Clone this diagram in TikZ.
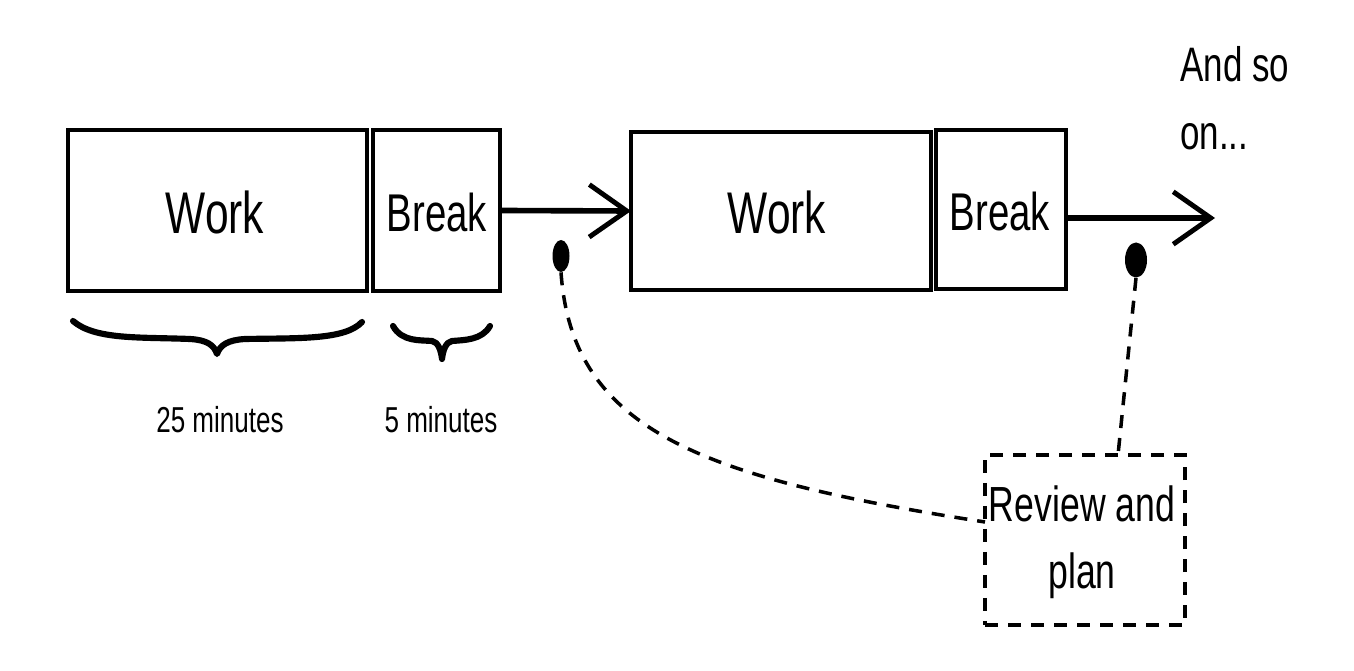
\documentclass[tikz,border=0pt]{standalone}
\usepackage{fontspec}
\setmainfont{Liberation Sans}
\usetikzlibrary{arrows.meta}
\usetikzlibrary{shapes.geometric}
\newcommand\narrowtxt[1]{\scalebox{0.78}[1.08]{#1}}
\tikzset{
  box/.style={draw, line width=2.2pt, inner sep=0pt, outer sep=0pt},
  dashbox/.style={draw, line width=2.2pt, dash pattern=on 0.26cm off 0.2cm, inner sep=0pt, outer sep=0pt},
  flow/.style={line width=3.2pt, -{Straight Barb[length=0.75cm,width=1.05cm,line width=2.8pt]}},
  dashline/.style={line width=2pt, dash pattern=on 0.26cm off 0.2cm},
  brace/.style={line width=3.5pt, line cap=round, line join=round},
  dot/.style={fill=black, draw=none, ellipse, inner sep=0pt},
  lbl/.style={font=\fontsize{19}{23}\selectfont, inner sep=0pt},
}
\begin{document}
\begin{tikzpicture}[x=0.02cm,y=-0.02cm]
\useasboundingbox (0,0) rectangle (1354,671);
% boxes
\node[box, minimum width=5.98cm, minimum height=3.22cm] (w1) at (217.5,210.5) {};
\node[box, minimum width=2.54cm, minimum height=3.22cm] (b1) at (436.5,210.5) {};
\node[box, minimum width=6.0cm, minimum height=3.16cm] (w2) at (781,211) {};
\node[box, minimum width=2.6cm, minimum height=3.18cm] (b2) at (1001,209.5) {};
\node[dashbox, minimum width=4.0cm, minimum height=3.4cm] (rv) at (1085,540) {};
% box texts
\node[inner sep=0pt, font=\fontsize{31}{36}\selectfont] (tw1) at (215,212) {\narrowtxt{Work}};
\node[inner sep=0pt, font=\fontsize{28}{32}\selectfont] (tb1) at (437,213) {\narrowtxt{Break}};
\node[inner sep=0pt, font=\fontsize{31}{36}\selectfont] (tw2) at (777,212) {\narrowtxt{Work}};
\node[inner sep=0pt, font=\fontsize{28}{32}\selectfont] (tb2) at (1000,212) {\narrowtxt{Break}};
\node[inner sep=0pt, align=center, font=\fontsize{26}{38}\selectfont] (trv) at (1082,542) {\narrowtxt{Review and}\\\narrowtxt{plan}};
% and so on
\node[inner sep=0pt, align=left, anchor=north west, font=\fontsize{25.5}{38.5}\selectfont] (more) at (1180,46) {\narrowtxt{And so}\\\narrowtxt{on...}};
% arrows
\draw[flow] (b1.east) -- (w2.west);
\coordinate (end2) at (1215,218);
\draw[flow] (b2.east |- end2) -- (end2);
% braces
\draw[brace] (73,321) .. controls (95,340) and (140,337) .. (190,339)
  .. controls (207,340) and (214,345) .. (217,354)
  .. controls (220,345) and (228,340) .. (245,339)
  .. controls (300,338) and (345,340) .. (362,322);
\draw[brace] (393,326) .. controls (402,342) and (420,340) .. (432,341)
  .. controls (438,342) and (441,350) .. (442,359)
  .. controls (443,350) and (446,342) .. (452,341)
  .. controls (465,340) and (482,340) .. (490,326);
% brace labels
\node[lbl] (l25) at (220,420) {\narrowtxt{25 minutes}};
\node[lbl] (l5) at (441,420) {\narrowtxt{5 minutes}};
% dots
\node[dot, minimum width=0.34cm, minimum height=0.64cm] (d1) at (561,256) {};
\node[dot, minimum width=0.44cm, minimum height=0.7cm] (d2) at (1136,260) {};
% dashed connectors
\coordinate (rvl) at (985,522);
\draw[dashline] (d1.south) .. controls (572,430) and (700,478) .. (rvl);
\coordinate (rvt) at (1118,455);
\draw[dashline] (d2.south) -- (rvt);
\end{tikzpicture}
\end{document}
